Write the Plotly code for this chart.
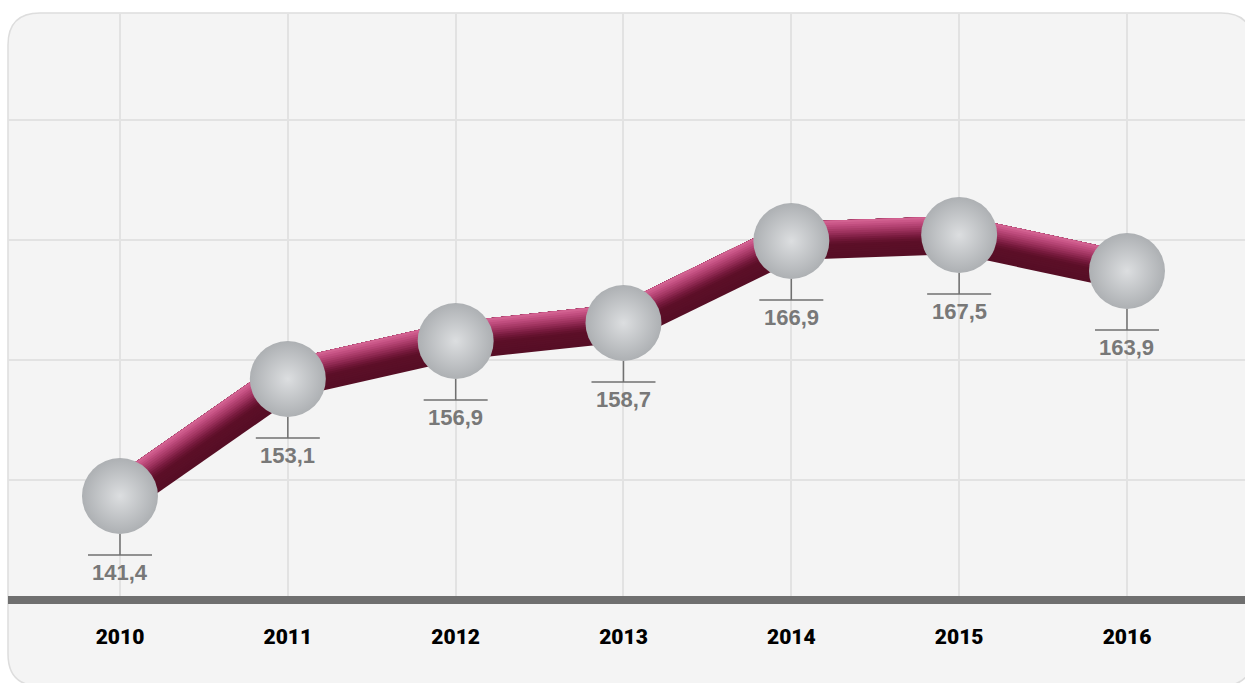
import plotly.graph_objects as go

# Data
years = ["2010", "2011", "2012", "2013", "2014", "2015", "2016"]
values = [141.4, 153.1, 156.9, 158.7, 166.9, 167.5, 163.9]
value_labels = ["141,4", "153,1", "156,9", "158,7", "166,9", "167,5", "163,9"]

# Canvas / plot geometry (pixels)
W_FIG, H_FIG = 1245, 683
M_L, M_R, M_T, M_B = 8, 0, 14, 83
PLOT_W = W_FIG - M_L - M_R
PLOT_H = H_FIG - M_T - M_B

X_RANGE = [-0.6673, 6.7032]
Y_RANGE = [131.0, 131.0 + PLOT_H / 10.0]
SX = PLOT_W / (X_RANGE[1] - X_RANGE[0])   # px per x unit
SY = PLOT_H / (Y_RANGE[1] - Y_RANGE[0])   # px per y unit

xs = list(range(len(years)))

fig = go.Figure()

# ---- tube-shaded line: stacked strokes offset perpendicular to each segment
TUBE_W = 38.0
N_LAYERS = 18
stops = [
    (0.00, (214, 104, 150)),
    (0.12, (196, 80, 130)),
    (0.30, (160, 52, 96)),
    (0.48, (118, 26, 60)),
    (0.62, (92, 15, 40)),
    (1.00, (86, 14, 37)),
]


def tube_color(t):
    for (t0, c0), (t1, c1) in zip(stops[:-1], stops[1:]):
        if t0 <= t <= t1:
            f = (t - t0) / (t1 - t0) if t1 > t0 else 0
            r, g, b = (round(a + (b_ - a) * f) for a, b_ in zip(c0, c1))
            return f"rgb({r},{g},{b})"
    r, g, b = stops[-1][1]
    return f"rgb({r},{g},{b})"


for k in range(N_LAYERS):
    w = TUBE_W * (N_LAYERS - k) / N_LAYERS
    off = (TUBE_W - w) / 2.0
    t = (N_LAYERS - k - 0.5) / N_LAYERS
    lx, ly = [], []
    for i in range(len(xs) - 1):
        dxp = (xs[i + 1] - xs[i]) * SX
        dyp = (values[i + 1] - values[i]) * SY
        ln = (dxp ** 2 + dyp ** 2) ** 0.5
        nx, ny = -dyp / ln, dxp / ln
        ox, oy = nx * off / SX, ny * off / SY
        lx += [xs[i] + ox, xs[i + 1] + ox, None]
        ly += [values[i] + oy, values[i + 1] + oy, None]
    fig.add_trace(go.Scatter(
        x=lx, y=ly, mode="lines",
        line=dict(color=tube_color(t), width=w),
        hoverinfo="skip", showlegend=False, connectgaps=False,
    ))

# ---- spheres
fig.add_trace(go.Scatter(
    x=xs, y=values, mode="markers",
    marker=dict(size=76, color="#adb0b3",
                gradient=dict(type="radial", color="#dcdee0"),
                line=dict(width=0)),
    hoverinfo="skip", showlegend=False,
))

shapes = []


def px_to_paper(px, py):
    return (px - M_L) / PLOT_W, (M_T + PLOT_H - py) / PLOT_H


# rounded panel behind the chart
L, T, R, B, RAD = 8, 13, 1253, 686, 32
pts = {
    "a": px_to_paper(L + RAD, T), "b": px_to_paper(R - RAD, T), "c": px_to_paper(R, T),
    "d": px_to_paper(R, T + RAD), "e": px_to_paper(R, B - RAD), "f": px_to_paper(R, B),
    "g": px_to_paper(R - RAD, B), "h": px_to_paper(L + RAD, B), "i": px_to_paper(L, B),
    "j": px_to_paper(L, B - RAD), "k": px_to_paper(L, T + RAD), "l": px_to_paper(L, T),
}
p = lambda n: f"{pts[n][0]:.5f},{pts[n][1]:.5f}"
panel_path = (f"M {p('a')} L {p('b')} Q {p('c')} {p('d')} L {p('e')} Q {p('f')} {p('g')} "
              f"L {p('h')} Q {p('i')} {p('j')} L {p('k')} Q {p('l')} {p('a')} Z")
shapes.append(dict(type="path", path=panel_path, xref="paper", yref="paper",
                   fillcolor="#f4f4f4", line=dict(color="#dddddd", width=1.5),
                   layer="below"))

# baseline
shapes.append(dict(type="line", xref="paper", yref="paper", x0=0, x1=1, y0=0, y1=0,
                   line=dict(color="#6f6f6f", width=8), layer="above"))

# value-label leader ticks under each sphere
for x, v in zip(xs, values):
    shapes.append(dict(type="line", xref="x", yref="y",
                       xsizemode="pixel", xanchor=x, x0=0, x1=0,
                       ysizemode="pixel", yanchor=v, y0=-38, y1=-59,
                       line=dict(color="#707070", width=1.5), layer="above"))
    shapes.append(dict(type="line", xref="x", yref="y",
                       xsizemode="pixel", xanchor=x, x0=-32, x1=32,
                       ysizemode="pixel", yanchor=v, y0=-59, y1=-59,
                       line=dict(color="#707070", width=1.5), layer="above"))

annotations = []
for x, v, lab in zip(xs, values, value_labels):
    annotations.append(dict(
        x=x, y=v, xref="x", yref="y", text=lab, showarrow=False,
        yshift=-76, yanchor="middle",
        font=dict(family="Liberation Sans, Arial, sans-serif", size=22,
                  color="#787878", weight="bold"),
    ))

fig.update_layout(
    width=W_FIG, height=H_FIG, autosize=False,
    margin=dict(l=M_L, r=M_R, t=M_T, b=M_B, pad=0),
    paper_bgcolor="#ffffff", plot_bgcolor="rgba(0,0,0,0)",
    shapes=shapes, annotations=annotations, showlegend=False,
    xaxis=dict(range=X_RANGE, tickmode="array", tickvals=xs, ticktext=years,
               showgrid=True, gridcolor="#e2e2e2", gridwidth=1.5,
               zeroline=False, showline=False, ticks="",
               ticklabelstandoff=22,
               tickfont=dict(family="Roboto, Liberation Sans, Arial, sans-serif", size=21,
                             color="#000000", weight=900),
               fixedrange=True),
    yaxis=dict(range=Y_RANGE, tick0=Y_RANGE[0], dtick=12,
               showgrid=True, gridcolor="#e2e2e2", gridwidth=1.5,
               zeroline=False, showline=False, showticklabels=False, ticks="",
               fixedrange=True),
)

fig.write_html("out.html", config={"displayModeBar": False})
